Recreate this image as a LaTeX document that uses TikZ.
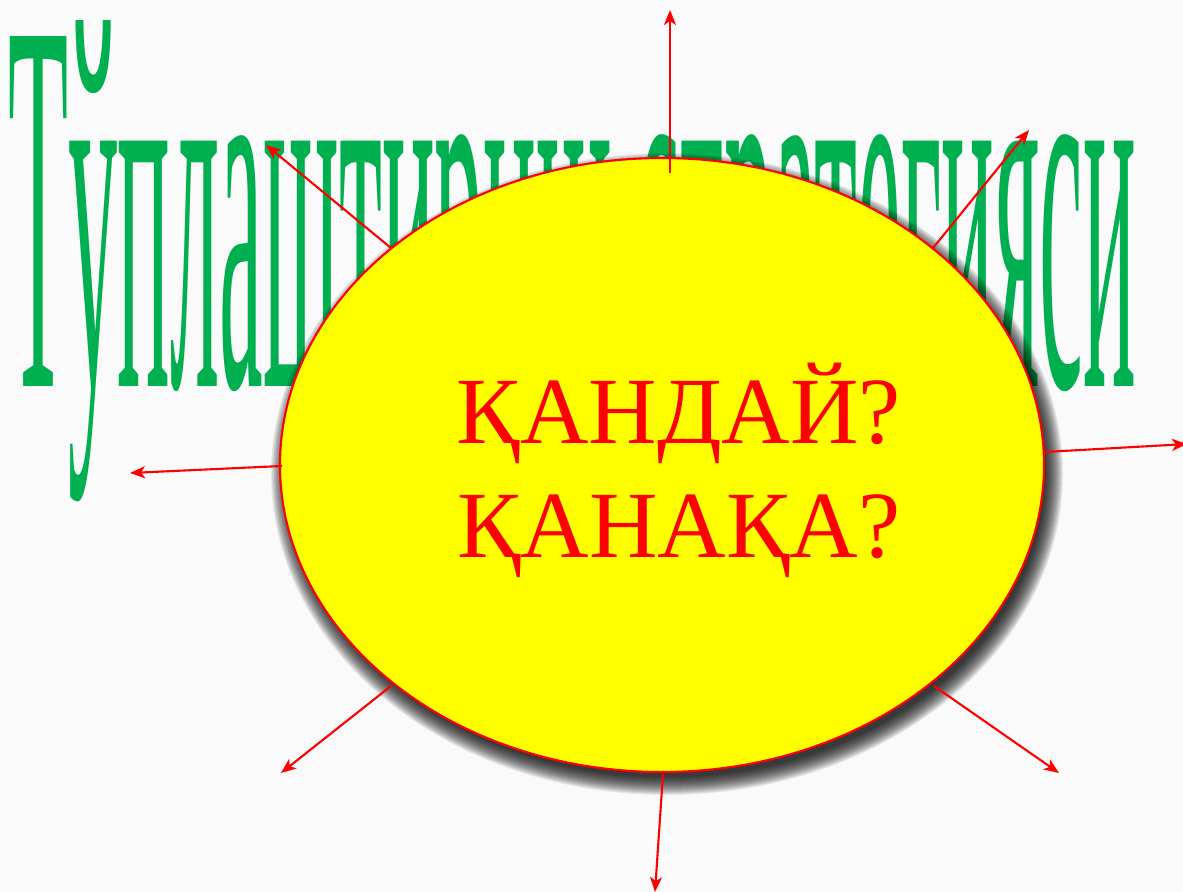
\documentclass[tikz,border=0pt]{standalone}
\usepackage{fontspec}
\setmainfont{Liberation Serif}
\usepackage{graphicx}
\usepackage{tikz}
\usetikzlibrary{arrows.meta, shapes.geometric}
\definecolor{sGreen}{HTML}{00B050}
\definecolor{sRed}{HTML}{FF0000}
\definecolor{sYellow}{HTML}{FFFF00}
\definecolor{sPaper}{HTML}{FAFAFA}

\begin{document}
\begin{tikzpicture}[x=0.1mm, y=-0.1mm,
    ray/.style={draw=sRed, line width=0.6pt, -{Stealth[length=1.5mm, width=1.2mm, inset=0.4mm]}},
    word/.style={text=sRed, font=\fontsize{27}{32.4}\selectfont, inner sep=0pt, align=center}]
  \fill[sPaper] (0,0) rectangle (1183,892);
  \useasboundingbox (0,0) rectangle (1183,892);
  % stretched title behind the ellipse (cap height fixed by the T)
  \node[anchor=base west, inner sep=0pt, text=sGreen] (title) at (8,387)
    {\resizebox{11.27cm}{3.5cm}{\raisebox{0pt}[\fontcharht\font`T][0pt]{Тўплаштириш стратегияси}}};
  % soft shadow, then the ellipse
  \foreach \k in {14,13,...,-4}
    \fill[black, opacity=0.07] (667,474) ellipse [x radius=382+\k, y radius=307+\k];
  \node[ellipse, draw=sRed, line width=0.6pt, fill=sYellow, minimum width=7.64cm,
    minimum height=6.14cm, inner sep=0pt] (core) at (662,465) {};
  \node[word, anchor=base] (ask) at (679,557) {ҚАНДАЙ?\\ҚАНАҚА?};
  % rays going out of the ellipse
  \foreach \n/\sx/\sy/\tx/\ty in {1/670/173/670/10, 2/391/248/266/145, 3/933/248/1029/130,
      4/1045/452/1187/444, 5/282/466/130/473, 6/391/686/281/773, 7/934/686/1059/773,
      8/663/774/655/892} {
    \coordinate (s\n) at (\sx,\sy);
    \coordinate (t\n) at (\tx,\ty);
    \draw[ray] (s\n) -- (t\n);
  }
\end{tikzpicture}
\end{document}
